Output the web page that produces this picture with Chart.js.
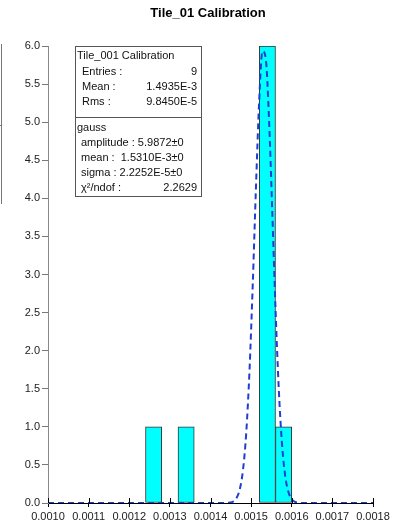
<!DOCTYPE html>
<html>
<head>
<meta charset="utf-8">
<script src="https://cdn.jsdelivr.net/npm/chart.js@4"></script>
<style>
  html, body { margin: 0; padding: 0; background: #fff; }
  #wrap { width: 401px; height: 528px; }
</style>
</head>
<body>
<div id="wrap"><canvas id="chart" width="401" height="528"></canvas></div>
<script>
// Histogram bins (centers, width 0.00004) with entries
const binCenters = [0.00126, 0.00134, 0.00154, 0.00158];
const binCounts = [1, 1, 6, 1];

// Gauss fit curve
const gaussX = [0.00100, 0.001440, 0.001448, 0.001456, 0.001464, 0.001472, 0.001480, 0.001488,
    0.001496, 0.001504, 0.001512, 0.001520, 0.001528, 0.001536, 0.001544, 0.001552, 0.001560,
    0.001568, 0.001576, 0.001584, 0.001592, 0.001600, 0.001608, 0.001616, 0.001624, 0.00180];
const gaussY = [0, 0.001, 0.006, 0.020, 0.064, 0.178, 0.433, 0.925,
    1.738, 2.868, 4.158, 5.299, 5.933, 5.838, 5.048, 3.835, 2.561,
    1.503, 0.775, 0.351, 0.140, 0.049, 0.015, 0.004, 0.001, 0];

// Axis ticks
const xTicks = [0.0010, 0.0011, 0.0012, 0.0013, 0.0014, 0.0015, 0.0016, 0.0017, 0.0018];
const yTicks = [0, 0.5, 1, 1.5, 2, 2.5, 3, 3.5, 4, 4.5, 5, 5.5, 6];

// Stats box text
const title = 'Tile_01 Calibration';
const statsTitle = 'Tile_001 Calibration';
const statsRows = [['Entries :', '9'], ['Mean :', '1.4935E-3'], ['Rms :', '9.8450E-5']];
const fitName = 'gauss';
const fitRows = [['amplitude : 5.9872\u00b10', ''], ['mean :  1.5310E-3\u00b10', ''],
    ['sigma : 2.2252E-5\u00b10', ''], ['\u03c7\u00b2/ndof :', '2.2629']];

const FONT = '"Liberation Sans", Arial, sans-serif';

const decor = {
    id: 'decor',
    afterDraw(chart) {
        const ctx = chart.ctx;
        const xs = chart.scales.x;
        const area = chart.chartArea;
        ctx.save();

        // title
        ctx.fillStyle = '#000';
        ctx.font = 'bold 13px ' + FONT;
        ctx.textAlign = 'center';
        ctx.textBaseline = 'middle';
        ctx.fillText(title, 208, 13);

        // x ticks above the axis
        ctx.strokeStyle = '#000';
        ctx.lineWidth = 1;
        xTicks.forEach(v => {
            const px = Math.round(xs.getPixelForValue(v)) + 0.5;
            ctx.beginPath();
            ctx.moveTo(px, area.bottom);
            ctx.lineTo(px, area.bottom - 5);
            ctx.stroke();
        });

        // cut-off box at the left edge
        ctx.strokeStyle = '#777';
        ctx.beginPath();
        ctx.moveTo(1.5, 44);
        ctx.lineTo(1.5, 204);
        ctx.moveTo(0, 125.5);
        ctx.lineTo(2, 125.5);
        ctx.stroke();

        // stats box
        const bx = 75.5, by = 46.5, bw = 126, bh = 150, sep = 117.5;
        ctx.fillStyle = '#fff';
        ctx.fillRect(bx, by, bw, bh);
        ctx.strokeStyle = '#555';
        ctx.strokeRect(bx, by, bw, bh);
        ctx.beginPath();
        ctx.moveTo(bx, sep);
        ctx.lineTo(bx + bw, sep);
        ctx.stroke();

        ctx.fillStyle = '#111';
        ctx.font = '11px ' + FONT;
        ctx.textBaseline = 'middle';
        ctx.textAlign = 'left';
        ctx.fillText(statsTitle, 77, 56);
        statsRows.forEach((r, i) => {
            ctx.textAlign = 'left';
            ctx.fillText(r[0], 82, 72 + i * 15);
            ctx.textAlign = 'right';
            ctx.fillText(r[1], 197, 72 + i * 15);
        });
        ctx.textAlign = 'left';
        ctx.fillText(fitName, 77, 128);
        fitRows.forEach((r, i) => {
            ctx.textAlign = 'left';
            ctx.fillText(r[0], 81, 143 + i * 15);
            if (r[1]) {
                ctx.textAlign = 'right';
                ctx.fillText(r[1], 197, 143 + i * 15);
            }
        });
        ctx.restore();
    }
};

new Chart(document.getElementById('chart'), {
    type: 'bar',
    data: {
        datasets: [
            {
                type: 'line',
                data: gaussX.map((x, i) => ({ x: x, y: gaussY[i] })),
                borderColor: '#1f3fd4',
                borderWidth: 2,
                borderDash: [6, 4],
                pointRadius: 0,
                fill: false,
                cubicInterpolationMode: 'monotone',
                order: 0
            },
            {
                type: 'bar',
                data: binCenters.map((x, i) => ({ x: x, y: binCounts[i] })),
                backgroundColor: '#00ffff',
                borderColor: '#333',
                borderWidth: 1,
                borderSkipped: false,
                categoryPercentage: 1,
                barPercentage: 1,
                order: 1
            }
        ]
    },
    plugins: [decor],
    options: {
        responsive: false,
        animation: false,
        layout: { padding: { top: 46, right: 28, left: 0, bottom: 0 } },
        plugins: {
            legend: { display: false },
            tooltip: { enabled: false }
        },
        scales: {
            x: {
                type: 'linear',
                min: 0.0010,
                max: 0.0018,
                offset: false,
                afterBuildTicks: (s) => { s.ticks = xTicks.map(v => ({ value: v })); },
                afterFit: (s) => { s.height = 25; },
                border: { color: '#000', width: 1 },
                grid: { display: true, drawOnChartArea: false, tickLength: 4, color: '#000', offset: false },
                ticks: {
                    autoSkip: false,
                    maxRotation: 0,
                    padding: 3,
                    color: '#222',
                    font: { family: FONT, size: 11 },
                    callback: (v) => Number(v).toFixed(4)
                }
            },
            y: {
                min: 0,
                max: 6,
                afterBuildTicks: (s) => { s.ticks = yTicks.map(v => ({ value: v })); },
                afterFit: (s) => { s.width = 48; },
                border: { color: '#888', width: 1 },
                grid: { display: true, drawOnChartArea: false, tickLength: 6, color: '#777' },
                ticks: {
                    padding: 2,
                    color: '#222',
                    font: { family: FONT, size: 11 },
                    callback: (v) => Number(v).toFixed(1)
                }
            }
        }
    }
});
</script>
</body>
</html>
